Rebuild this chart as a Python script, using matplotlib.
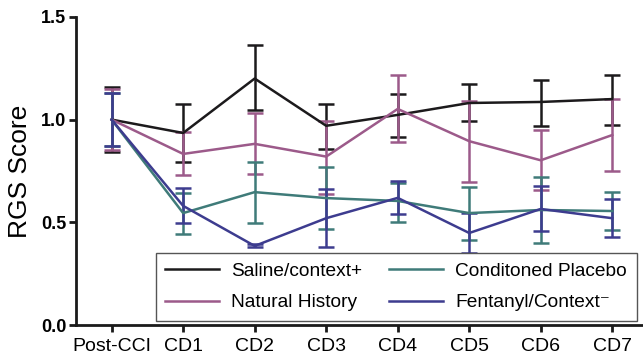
import matplotlib
matplotlib.use("Agg")
import matplotlib.pyplot as plt
import numpy as np

categories = ["Post-CCI", "CD1", "CD2", "CD3", "CD4", "CD5", "CD6", "CD7"]

saline = [1.00, 0.935, 1.20, 0.97, 1.023, 1.081, 1.086, 1.10]
saline_hi = [1.16, 1.076, 1.364, 1.076, 1.125, 1.174, 1.193, 1.218]
saline_lo = [0.84, 0.794, 1.047, 0.857, 0.916, 0.994, 0.97, 0.974]

natural = [1.00, 0.833, 0.882, 0.82, 1.052, 0.895, 0.802, 0.925]
natural_hi = [1.15, 0.94, 1.03, 0.995, 1.215, 1.09, 0.948, 1.10]
natural_lo = [0.85, 0.73, 0.736, 0.638, 0.893, 0.695, 0.655, 0.752]

placebo = [1.00, 0.545, 0.647, 0.618, 0.604, 0.545, 0.56, 0.555]
placebo_hi = [1.13, 0.643, 0.793, 0.771, 0.69, 0.674, 0.72, 0.647]
placebo_lo = [0.87, 0.443, 0.497, 0.466, 0.50, 0.414, 0.40, 0.462]

fentanyl = [1.00, 0.58, 0.385, 0.52, 0.619, 0.448, 0.565, 0.52]
fentanyl_hi = [1.13, 0.667, 0.392, 0.662, 0.70, 0.545, 0.677, 0.614]
fentanyl_lo = [0.87, 0.497, 0.378, 0.38, 0.54, 0.35, 0.457, 0.43]

series = [
    ("Saline/context+", saline, saline_lo, saline_hi, "#1c1a1c"),
    ("Natural History", natural, natural_lo, natural_hi, "#9c5a8a"),
    ("Conditoned Placebo", placebo, placebo_lo, placebo_hi, "#3f7b79"),
    ("Fentanyl/Context\u207b", fentanyl, fentanyl_lo, fentanyl_hi, "#3d3c8f"),
]

plt.rcParams['font.family'] = ['Liberation Sans', 'DejaVu Sans']

fig = plt.figure(figsize=(6.43, 3.57), dpi=100)
ax = fig.add_axes([0.118, 0.0896, 0.882, 0.863])

x = np.arange(len(categories))
handles = []
for label, y, lo, hi, c in series:
    y = np.array(y); lo = np.array(lo); hi = np.array(hi)
    err = np.vstack([y - lo, hi - y])
    h = ax.errorbar(x, y, yerr=err, color=c, lw=1.8, capsize=5.5, capthick=1.8,
                    elinewidth=1.8, label=label)
    handles.append(h[0])

ax.set_xlim(-0.5, 7.43)
ax.set_ylim(0, 1.5)
ax.set_yticks([0.0, 0.5, 1.0, 1.5])
ax.set_yticklabels(["0.0", "0.5", "1.0", "1.5"], fontweight="bold", fontsize=13)
ax.set_xticks(x)
ax.set_xticklabels(categories, fontsize=14)
ax.set_ylabel("RGS Score", fontsize=19, labelpad=6)

for s in ["top", "right"]:
    ax.spines[s].set_visible(False)
for s in ["left", "bottom"]:
    ax.spines[s].set_linewidth(2)
    ax.spines[s].set_color("#1a1a1a")
ax.tick_params(axis="both", width=2, length=5, color="#1a1a1a", pad=2)
ax.tick_params(axis="x", pad=4)

leg = ax.legend(handles=handles, labels=[s[0] for s in series], ncol=2,
                loc="lower right", bbox_to_anchor=(0.989, 0.013),
                fancybox=False, framealpha=1, edgecolor="#555555",
                fontsize=13.8, handlelength=2.8, handletextpad=0.65,
                borderaxespad=0, columnspacing=1.4, borderpad=0.5,
                labelspacing=0.75)
leg.get_frame().set_linewidth(1.0)

fig.savefig("out.png", dpi=100)
